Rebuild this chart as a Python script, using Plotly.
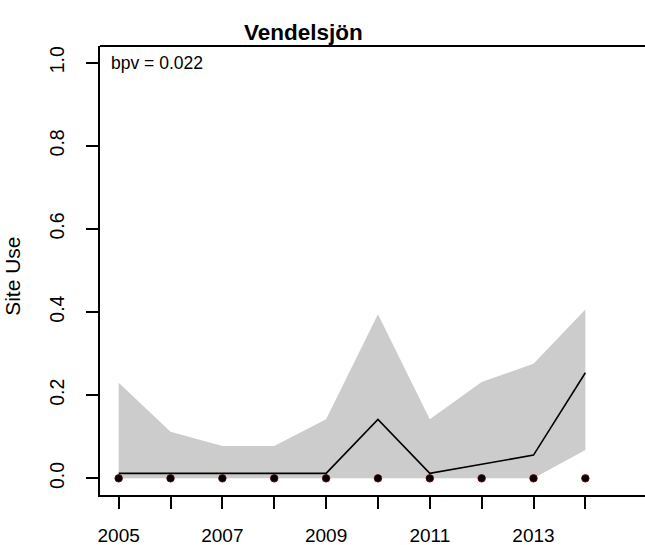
import plotly.graph_objects as go

years = [2005, 2006, 2007, 2008, 2009, 2010, 2011, 2012, 2013, 2014]
mean_use = [0.012, 0.012, 0.012, 0.012, 0.012, 0.142, 0.012, 0.034, 0.056, 0.254]
upper = [0.230, 0.112, 0.078, 0.078, 0.142, 0.395, 0.142, 0.232, 0.276, 0.406]
lower = [0.0, 0.0, 0.0, 0.0, 0.0, 0.0, 0.0, 0.0, 0.0, 0.068]
observed = [0, 0, 0, 0, 0, 0, 0, 0, 0, 0]
y_ticks = [0.0, 0.2, 0.4, 0.6, 0.8, 1.0]
y_tick_labels = ["0.0", "0.2", "0.4", "0.6", "0.8", "1.0"]
x_tick_labels = ["2005", "", "2007", "", "2009", "", "2011", "", "2013", ""]
title = "Vendelsjön"
bpv_text = "bpv = 0.022"

FONT = "Liberation Sans, Arial, sans-serif"

fig = go.Figure()
fig.add_trace(go.Scatter(
    x=years + years[::-1], y=upper + lower[::-1],
    fill="toself", fillcolor="#CCCCCC", line=dict(width=0),
    mode="lines", hoverinfo="skip", showlegend=False))
fig.add_trace(go.Scatter(
    x=years, y=mean_use, mode="lines",
    line=dict(color="black", width=1.6), showlegend=False))
fig.add_trace(go.Scatter(
    x=years, y=observed, mode="markers",
    marker=dict(color="black", size=7.5, line=dict(color="#6b0000", width=0.8)),
    showlegend=False, cliponaxis=False))

pw = 645 - 99.5
ph = 545 - 45.5 - 50

fig.update_layout(
    width=645, height=545,
    margin=dict(l=99.5, r=0, t=45.5, b=50, autoexpand=False),
    paper_bgcolor="white", plot_bgcolor="white",
    font=dict(family=FONT, size=19, color="black"),
    showlegend=False,
    xaxis=dict(range=[2004.64, 2015.15], tickvals=years, ticktext=x_tick_labels,
               ticks="outside", ticklen=12, tickwidth=1.6, tickcolor="black",
               showline=True, linecolor="black", linewidth=1.8,
               showgrid=False, zeroline=False, ticklabelstandoff=10,
               tickfont=dict(size=19)),
    yaxis=dict(range=[-0.04, 1.04], tickvals=y_ticks, ticktext=y_tick_labels,
               ticks="outside", ticklen=12, tickwidth=1.6, tickcolor="black",
               showline=True, linecolor="black", linewidth=1.8,
               showgrid=False, zeroline=False, tickangle=-90,
               ticklabelstandoff=14, tickfont=dict(size=19.5)),
    shapes=[dict(type="line", xref="paper", yref="paper", x0=0, x1=1, y0=1, y1=1,
                 layer="above", line=dict(color="black", width=1.8))],
    annotations=[
        dict(text="<b>" + title + "</b>", x=(303 - 99.5) / pw, xref="paper",
             y=1, yref="paper", showarrow=False, font=dict(size=22.5),
             yanchor="bottom", xanchor="center", yshift=-1),
        dict(text=bpv_text, x=2005 - 0.18, xref="x", y=1.0, yref="y", showarrow=False,
             xanchor="left", yanchor="middle", font=dict(size=17.5)),
        dict(text="Site Use", x=(12 - 99.5) / pw, xref="paper",
             y=(545 - 50 - 276) / ph, yref="paper", showarrow=False,
             xanchor="center", yanchor="middle",
             textangle=-90, font=dict(size=21)),
    ],
)

fig.write_html("out.html", config={"displayModeBar": False},
               post_script="document.body.style.margin='0';document.body.style.overflow='hidden';")
